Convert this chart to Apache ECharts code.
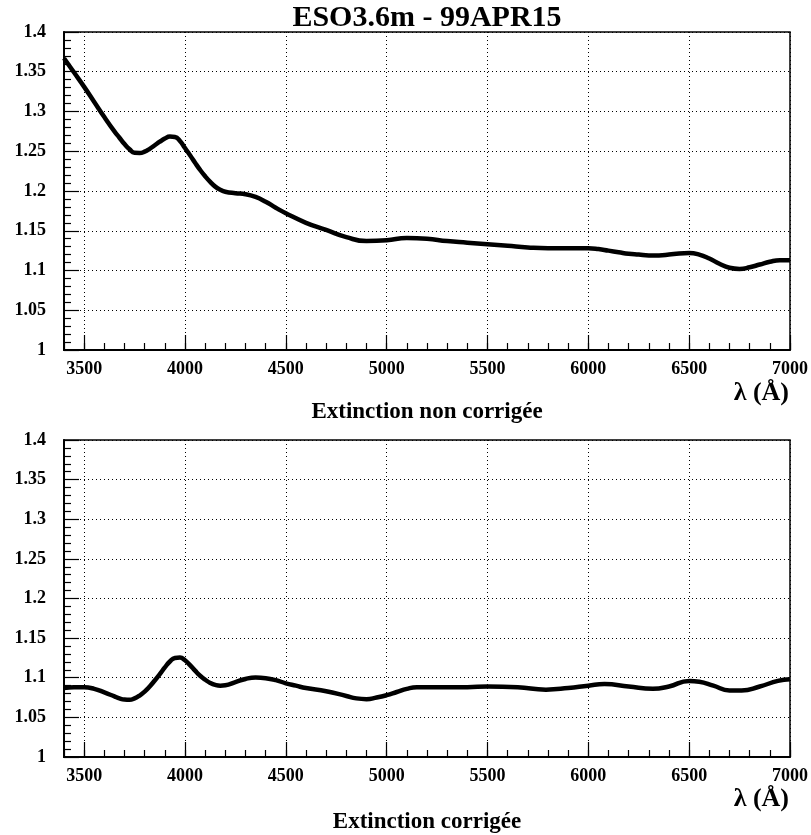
<!DOCTYPE html>
<html>
<head>
<meta charset="utf-8">
<title>ESO3.6m - 99APR15</title>
<script src="https://cdn.jsdelivr.net/npm/echarts@6/dist/echarts.min.js"></script>
<style>
  html, body { margin: 0; padding: 0; background: #fff; }
  #main { width: 811px; height: 835px; }
</style>
</head>
<body>
<div id="main"></div>
<script>
// extinction non corrigee (panneau du haut)
var lambdaRaw = [3400, 3450, 3500, 3550, 3600, 3650, 3675, 3700, 3725, 3750, 3775, 3800, 3825, 3850,
  3875, 3900, 3925, 3950, 3975, 4000, 4025, 4050, 4075, 4100, 4125, 4150, 4175, 4200, 4250, 4300,
  4350, 4400, 4450, 4500, 4600, 4700, 4800, 4900, 5000, 5100, 5200, 5300, 5400, 5500, 5600, 5700,
  5800, 5900, 6000, 6050, 6100, 6150, 6200, 6250, 6300, 6350, 6400, 6450, 6500, 6550, 6600, 6650,
  6700, 6750, 6800, 6850, 6900, 6950, 7000];
var extRaw = [1.367, 1.349, 1.331, 1.312, 1.293, 1.275, 1.267, 1.259, 1.2525, 1.248, 1.2478, 1.2495, 1.253, 1.2575,
  1.262, 1.266, 1.2685, 1.268, 1.263, 1.254, 1.245, 1.2355, 1.2265, 1.2185, 1.2115, 1.2055, 1.2015, 1.199, 1.1972, 1.196,
  1.1925, 1.1865, 1.179, 1.172, 1.160, 1.151, 1.142, 1.137, 1.138, 1.141, 1.140, 1.137, 1.135, 1.133, 1.131, 1.129,
  1.128, 1.128, 1.128, 1.127, 1.125, 1.123, 1.121, 1.120, 1.119, 1.119, 1.120, 1.1215, 1.122, 1.120, 1.115, 1.1085,
  1.1035, 1.102, 1.104, 1.1075, 1.111, 1.113, 1.113];

// extinction corrigee (panneau du bas)
var lambdaCorr = [3400, 3450, 3500, 3550, 3600, 3650, 3675, 3700, 3725, 3750, 3775, 3800, 3825, 3850,
  3875, 3900, 3925, 3950, 3975, 4000, 4025, 4050, 4075, 4100, 4125, 4150, 4175, 4200, 4250, 4300,
  4350, 4400, 4450, 4500, 4550, 4600, 4700, 4800, 4850, 4900, 4950, 5000, 5050, 5100, 5150, 5250,
  5400, 5500, 5650, 5790, 5900, 6000, 6080, 6200, 6320, 6400, 6500, 6550, 6620, 6700, 6760, 6850,
  6940, 7000];
var extCorr = [1.087, 1.088, 1.088, 1.086, 1.0815, 1.0765, 1.074, 1.0725, 1.0722, 1.074, 1.0775, 1.0825, 1.089, 1.0965,
  1.1045, 1.113, 1.1205, 1.125, 1.1255, 1.122, 1.116, 1.109, 1.1025, 1.0975, 1.0935, 1.091, 1.090, 1.0905, 1.0945, 1.0985,
  1.1003, 1.0995, 1.097, 1.093, 1.090, 1.087, 1.083, 1.077, 1.074, 1.073, 1.075, 1.078, 1.082, 1.086, 1.088, 1.088,
  1.088, 1.089, 1.088, 1.085, 1.087, 1.090, 1.092, 1.089, 1.086, 1.089, 1.096, 1.095, 1.090, 1.084, 1.084, 1.089,
  1.096, 1.098];

var xTickLabels = [3500, 4000, 4500, 5000, 5500, 6000, 6500, 7000];
var yTickLabels = ['1', '1.05', '1.1', '1.15', '1.2', '1.25', '1.3', '1.35', '1.4'];

var serif = '"Liberation Serif", "DejaVu Serif", serif';
var chart = echarts.init(document.getElementById('main'));

function pairs(xs, ys) {
  return xs.map(function (x, i) { return [x, ys[i]]; });
}

var grids = [
  { left: 64, top: 32, width: 726, height: 318 },
  { left: 64, top: 440, width: 726, height: 317 }
];

var xAxes = [], yAxes = [];
grids.forEach(function (g, gi) {
  g.show = true;
  g.borderColor = '#000';
  g.borderWidth = 1.5;
  g.containLabel = false;
  // petites graduations tous les 100 A
  xAxes.push({
    type: 'value', gridIndex: gi, position: 'bottom',
    min: 3400, max: 7000, interval: 100,
    axisLine: { show: false, onZero: false },
    axisTick: { show: true, inside: true, length: 7, lineStyle: { color: '#000', width: 1.2 } },
    axisLabel: { show: false },
    splitLine: { show: false }
  });
  // grandes graduations : axe inverse (7000 - lambda) pour avoir 3500, 4000 ... 7000
  xAxes.push({
    type: 'value', gridIndex: gi, position: 'bottom', inverse: true,
    min: 0, max: 3600, interval: 500,
    axisLine: { show: true, onZero: false, lineStyle: { color: '#000', width: 2 } },
    axisTick: { show: true, inside: true, length: 15, lineStyle: { color: '#000', width: 1.2 } },
    axisLabel: {
      margin: 10, color: '#000', fontFamily: serif, fontWeight: 'bold', fontSize: 18,
      showMaxLabel: false,
      formatter: function (v) {
        var lam = 7000 - v;
        return xTickLabels.indexOf(lam) >= 0 ? String(lam) : '';
      }
    },
    splitLine: { show: true, lineStyle: { color: '#000', width: 1, type: [1, 3] } }
  });
  yAxes.push({
    type: 'value', gridIndex: gi, position: 'left',
    min: 1, max: 1.4, interval: 0.05,
    axisLine: { show: true, onZero: false, lineStyle: { color: '#000', width: 2 } },
    axisTick: { show: true, inside: true, length: 15, lineStyle: { color: '#000', width: 1.2 } },
    minorTick: { show: true, splitNumber: 5, length: 7, lineStyle: { color: '#000', width: 1.2 } },
    axisLabel: {
      margin: 18, color: '#000', fontFamily: serif, fontWeight: 'bold', fontSize: 18,
      formatter: function (v) {
        var s = String(+v.toFixed(2));
        return yTickLabels.indexOf(s) >= 0 ? s : '';
      }
    },
    splitLine: { show: true, lineStyle: { color: '#000', width: 1, type: [1, 3] } }
  });
});

var bold = function (size) {
  return { fontFamily: serif, fontWeight: 'bold', fontSize: size, color: '#000' };
};

var option = {
  animation: false,
  backgroundColor: '#fff',
  title: [
    { text: 'ESO3.6m - 99APR15', left: 427, top: 3, textAlign: 'center', padding: 0, textStyle: bold(30) },
    { text: 'λ (Å)', left: 789, top: 380, textAlign: 'right', padding: 0, textStyle: bold(26) },
    { text: 'Extinction non corrigée', left: 427, top: 401, textAlign: 'center', padding: 0, textStyle: bold(23) },
    { text: 'λ (Å)', left: 789, top: 786, textAlign: 'right', padding: 0, textStyle: bold(26) },
    { text: 'Extinction corrigée', left: 427, top: 811, textAlign: 'center', padding: 0, textStyle: bold(23) }
  ],
  grid: grids,
  xAxis: xAxes,
  yAxis: yAxes,
  series: [
    {
      type: 'line', xAxisIndex: 0, yAxisIndex: 0,
      data: pairs(lambdaRaw, extRaw),
      smooth: 0.5, symbol: 'none',
      lineStyle: { color: '#000', width: 4.5 }
    },
    {
      type: 'line', xAxisIndex: 2, yAxisIndex: 1,
      data: pairs(lambdaCorr, extCorr),
      smooth: 0.5, symbol: 'none',
      lineStyle: { color: '#000', width: 4.5 }
    }
  ]
};
chart.setOption(option);

window.addEventListener('resize', function () {
  chart.resize();
});
</script>
</body>
</html>
